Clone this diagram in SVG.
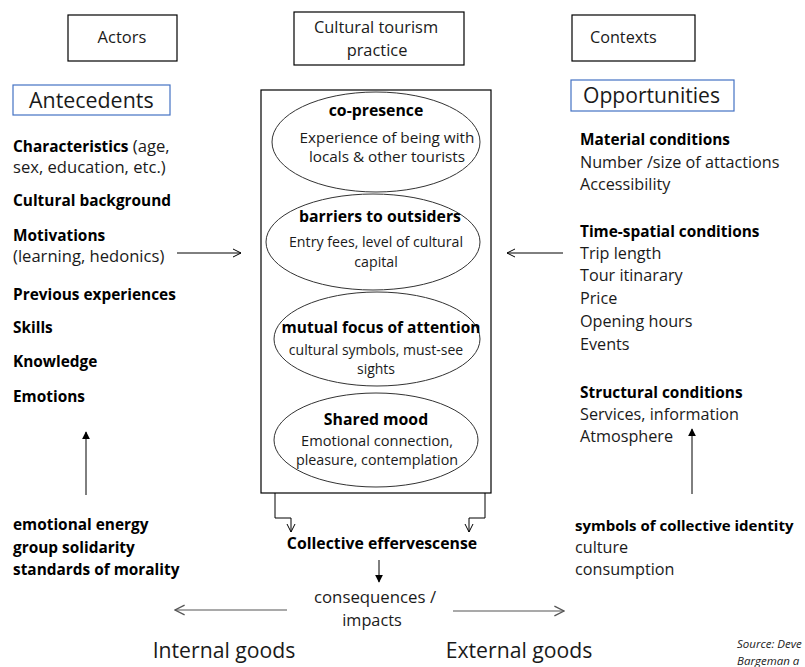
<svg xmlns="http://www.w3.org/2000/svg" width="805" height="667" viewBox="0 0 805 667">
<defs>
<style>
text{font-family:"Open Sans","Liberation Sans",sans-serif;fill:#1a1a1a}
.b{font-weight:bold;fill:#000}
.rl{font-size:16.6px}
.rr{font-size:16.2px}
.bl{font-size:15.4px}
.c{text-anchor:middle}
.box{fill:#fff;stroke:#000;stroke-width:1.2}
.bbox{fill:#fff;stroke:#4472c4;stroke-width:1.2}
.ell{fill:#fff;stroke:#333;stroke-width:1}
.ln{fill:none;stroke:#000;stroke-width:1}
.gl{fill:none;stroke:#555;stroke-width:1.2}
.eh{font-size:15.8px;font-weight:bold;fill:#000}
</style>
<marker id="open" viewBox="0 0 10 10" refX="9" refY="5" markerWidth="10" markerHeight="10" markerUnits="userSpaceOnUse" orient="auto"><path d="M1,1 L9,5 L1,9" fill="none" stroke="#000" stroke-width="1"/></marker>
<marker id="openg" viewBox="0 0 10 10" refX="9" refY="5" markerWidth="12" markerHeight="12" markerUnits="userSpaceOnUse" orient="auto"><path d="M1,1 L9,5 L1,9" fill="none" stroke="#555" stroke-width="1.1"/></marker>
<marker id="fill" viewBox="0 0 10 10" refX="9" refY="5" markerWidth="8" markerHeight="8" markerUnits="userSpaceOnUse" orient="auto"><path d="M0,0 L10,5 L0,10 Z" fill="#000"/></marker>
</defs>

<g id="actors"><rect class="box" x="68" y="15" width="109" height="46"/><text class="c" x="122" y="43" font-size="16.5">Actors</text></g>
<g id="practice"><rect class="box" x="294" y="12" width="170" height="53"/><text class="c" x="376" y="33" font-size="16.4">Cultural tourism</text><text class="c" x="377" y="56" font-size="16.4">practice</text></g>
<g id="contexts"><rect class="box" x="572" y="15" width="123" height="46"/><text x="590" y="43" font-size="16.2">Contexts</text></g>

<g id="antecedents"><rect class="bbox" x="13" y="85" width="157" height="30"/><text x="29" y="108" font-size="21.4">Antecedents</text></g>
<g id="opportunities"><rect class="bbox" x="571" y="80" width="163" height="31"/><text x="583" y="103" font-size="21.1">Opportunities</text></g>

<g id="actors-list">
<text x="13" y="152" class="rl"><tspan class="b bl">Characteristics</tspan> (age,</text>
<text x="13" y="173" class="rl">sex, education, etc.)</text>
<text x="13" y="206" class="b bl">Cultural background</text>
<text x="13" y="241" class="b bl">Motivations</text>
<text x="13" y="262" class="rl">(learning, hedonics)</text>
<text x="13" y="300" class="b bl">Previous experiences</text>
<text x="13" y="333" class="b bl">Skills</text>
<text x="13" y="367" class="b bl">Knowledge</text>
<text x="13" y="402" class="b bl">Emotions</text>
</g>

<g id="practice-box">
<rect class="box" x="261" y="90" width="230" height="403"/>
<g id="copresence"><ellipse class="ell" cx="376" cy="142" rx="104" ry="50"/>
<text class="c eh" x="376" y="116">co-presence</text>
<text class="c" font-size="15.3" x="387" y="143">Experience of being with</text>
<text class="c" font-size="15.3" x="387" y="162">locals &amp; other tourists</text></g>
<g id="barriers"><ellipse class="ell" cx="373" cy="242" rx="107" ry="48"/>
<text class="c eh" x="380" y="222" font-size="16.1">barriers to outsiders</text>
<text class="c" font-size="14.2" x="376" y="247">Entry fees, level of cultural</text>
<text class="c" font-size="14.2" x="376" y="267">capital</text></g>
<g id="focus"><ellipse class="ell" cx="377" cy="339" rx="103" ry="47"/>
<text class="c b" x="381" y="333" font-size="15.5">mutual focus of attention</text>
<text class="c" font-size="14" x="376" y="355">cultural symbols, must-see</text>
<text class="c" font-size="14" x="376" y="374">sights</text></g>
<g id="mood"><ellipse class="ell" cx="376" cy="440" rx="102" ry="47"/>
<text class="c eh" x="376" y="425">Shared mood</text>
<text class="c" font-size="14.6" x="377" y="446">Emotional connection,</text>
<text class="c" font-size="14.3" x="377" y="465">pleasure, contemplation</text></g>
</g>

<g id="contexts-list">
<text x="580" y="145" class="b bl">Material conditions</text>
<text x="580" y="168" class="rr">Number /size of attactions</text>
<text x="580" y="190" class="rr">Accessibility</text>
<text x="580" y="237" class="b bl">Time-spatial conditions</text>
<text x="580" y="259" class="rr">Trip length</text>
<text x="580" y="281" class="rr">Tour itinarary</text>
<text x="580" y="304" class="rr">Price</text>
<text x="580" y="327" class="rr">Opening hours</text>
<text x="580" y="350" class="rr">Events</text>
<text x="580" y="398" class="b bl">Structural conditions</text>
<text x="580" y="420" class="rr">Services, information</text>
<text x="580" y="442" class="rr">Atmosphere</text>
</g>

<g id="internal">
<text x="13" y="530" class="b bl">emotional energy</text>
<text x="13" y="553" class="b bl">group solidarity</text>
<text x="13" y="575" class="b bl">standards of morality</text>
</g>
<g id="external">
<text x="575" y="531" class="b" font-size="15">symbols of collective identity</text>
<text x="575" y="553" class="rr">culture</text>
<text x="575" y="575" class="rr">consumption</text>
</g>

<g id="effervescence"><text x="382" y="549" class="c b" font-size="15.8">Collective effervescense</text></g>
<g id="consequences"><text x="375" y="603" class="c" font-size="16.8" fill="#333">consequences /</text><text x="372" y="626" class="c" font-size="16.3" fill="#333">impacts</text></g>
<g id="goods">
<text x="224" y="658" class="c" font-size="21.2" fill="#333">Internal goods</text>
<text x="519" y="658" class="c" font-size="21.2" fill="#333">External goods</text>
</g>
<g id="source">
<text x="737" y="648" font-size="11.5" font-style="italic" fill="#333">Source: Deve</text>
<text x="737" y="665" font-size="11.5" font-style="italic" fill="#333">Bargeman a</text>
</g>

<g id="connectors">
<line class="ln" x1="177" y1="253" x2="241" y2="253" marker-end="url(#open)"/>
<line class="ln" x1="563" y1="253" x2="507" y2="253" marker-end="url(#open)"/>
<line class="ln" x1="86" y1="495" x2="86" y2="432" marker-end="url(#fill)"/>
<line class="ln" x1="692" y1="494" x2="692" y2="429" marker-end="url(#fill)"/>
<polyline class="ln" points="275,493 275,518 291,518 291,532" marker-end="url(#open)"/>
<polyline class="ln" points="485,493 485,518 469,518 469,532" marker-end="url(#open)"/>
<line class="ln" x1="379" y1="560" x2="379" y2="582" marker-end="url(#fill)"/>
<line class="gl" x1="287" y1="610" x2="175" y2="610" marker-end="url(#openg)"/>
<line class="gl" x1="453" y1="611" x2="564" y2="611" marker-end="url(#openg)"/>
</g>
</svg>
